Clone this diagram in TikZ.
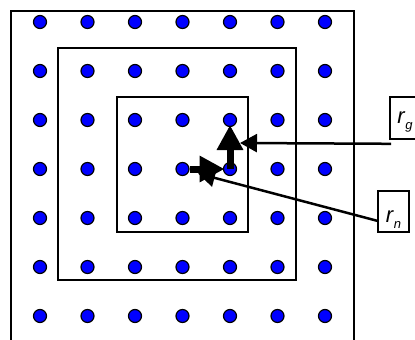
\documentclass[tikz,border=0pt]{standalone}
\usepackage{fontspec}
\setmainfont{Liberation Sans}
\usetikzlibrary{arrows.meta,calc}
\tikzset{
  frame/.style={draw=black,line width=2pt},
  dot/.style={circle,draw=black,fill=blue,line width=1.2pt,minimum size=13pt,inner sep=0pt},
  vec/.style={line width=7pt,-{Triangle[length=25pt,width=25pt]}},
  pointer/.style={line width=2.5pt,-{Triangle[length=17pt,width=18pt]}},
  labelbox/.style={draw=black,line width=1.6pt,inner sep=0pt,font=\fontsize{22}{24}\selectfont}
}
\newcommand{\subtxt}[1]{\raisebox{-6pt}{\fontsize{13}{13}\selectfont\itshape #1}}
\begin{document}
\begin{tikzpicture}[x=1pt,y=-1pt]
\useasboundingbox (0,0) rectangle (415,340);
\clip (0,0) rectangle (415,340);
% frames
\draw[frame] (10.5,11) rectangle (354,360);
\draw[frame] (57.5,47.5) rectangle (296,280);
\draw[frame] (117,97) rectangle (248,232);
% dots
\foreach \i in {0,...,6}{
  \foreach \j in {0,...,6}{
    \node[dot] (d-\i-\j) at ({40+47.5*\i},{22+49*\j}) {};
  }
}
% label boxes
\node[labelbox,minimum width=30pt,minimum height=42pt,text height=15pt,text depth=5pt] (rg) at (405,118) {\textit{r}\subtxt{g}};
\node[labelbox,minimum width=31pt,minimum height=41pt,text height=22pt,text depth=1pt] (rn) at (393.5,211.5) {\textit{r}\subtxt{n}};
% vectors
\coordinate (tipv) at ($(d-4-3)+(0,-44)$);
\coordinate (tiph) at ($(d-3-3)+(42,0)$);
\draw[vec] (d-4-3.center) -- (tipv);
\draw[vec] (d-3-3.east) -- (tiph);
% pointers
\coordinate (tipg) at (240,143);
\coordinate (tipn) at (198,173.5);
\draw[pointer] ($(rg.south west)+(2,4)$) -- (tipg);
\draw[pointer] ($(rn.south west)+(0,-12)$) -- (tipn);
\end{tikzpicture}
\end{document}
